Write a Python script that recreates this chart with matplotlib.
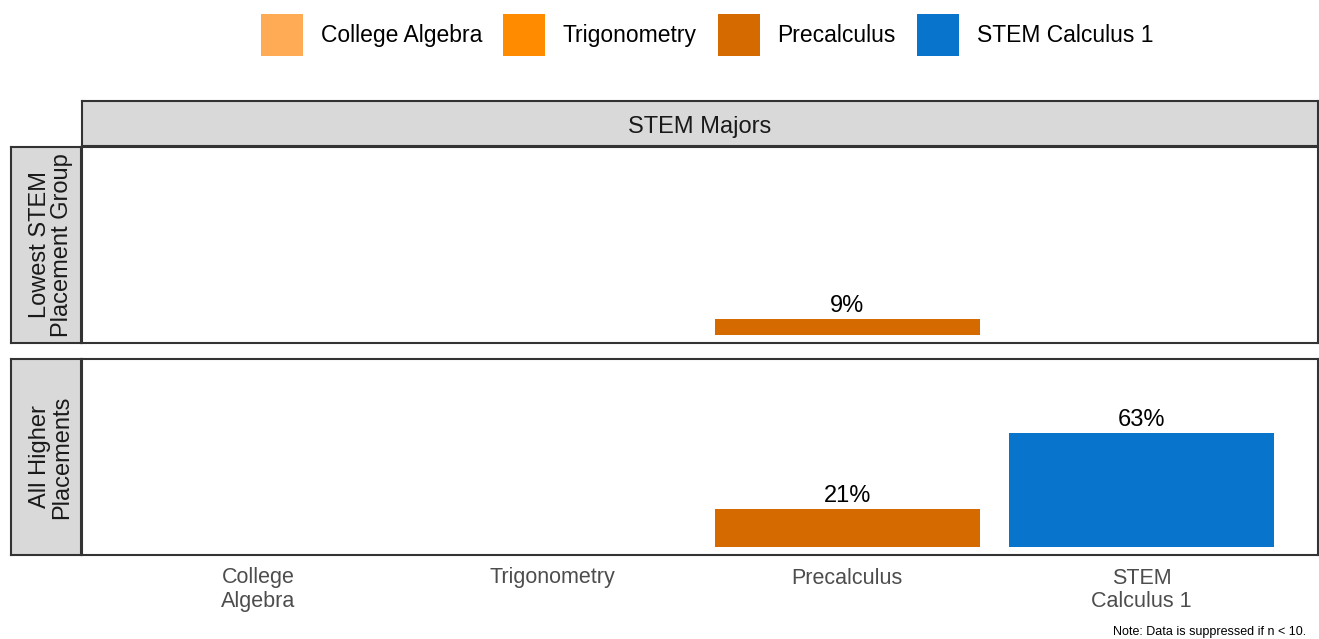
import numpy as np
import matplotlib
matplotlib.use("Agg")
import matplotlib.pyplot as plt
from matplotlib.patches import Patch

plt.rcParams['font.family'] = ['Liberation Sans', 'DejaVu Sans']

courses = ['College Algebra', 'Trigonometry', 'Precalculus', 'STEM Calculus 1']
tick_labels = ['College\nAlgebra', 'Trigonometry', 'Precalculus', 'STEM\nCalculus 1']
colors = ['#FFAA55', '#FF8C00', '#D46A00', '#0874CC']
groups = ['Lowest STEM\nPlacement Group', 'All Higher\nPlacements']
# NaN = suppressed / no data
values = {
    'Lowest STEM\nPlacement Group': [np.nan, np.nan, 0.09, np.nan],
    'All Higher\nPlacements': [np.nan, np.nan, 0.21, 0.63],
}

W, H = 1319, 639
fig = plt.figure(figsize=(W / 100, H / 100), dpi=100)


def box(x0, y0, x1, y1):
    # pixel box (top-left origin) -> figure fraction rect
    return [x0 / W, 1 - y1 / H, (x1 - x0) / W, (y1 - y0) / H]


edge = '#333333'
strip_fc = '#D9D9D9'

# top strip
st = fig.add_axes(box(82, 101, 1318, 146))
st.set_facecolor(strip_fc)
st.set_xticks([]); st.set_yticks([])
for s in st.spines.values():
    s.set_color(edge); s.set_linewidth(1.5)
st.text(0.5, 0.5 - 3 / 45, 'STEM Majors', ha='center', va='center', fontsize=17,
        color='#1a1a1a', transform=st.transAxes)

panel_y = [(147, 343), (359, 555)]
x = np.arange(1, len(courses) + 1)
for i, g in enumerate(groups):
    y0, y1 = panel_y[i]
    ax = fig.add_axes(box(82, y0, 1318, y1))
    vals = np.array(values[g])
    ok = ~np.isnan(vals)
    ax.bar(x[ok], vals[ok], width=0.9, color=[colors[j] for j in np.where(ok)[0]])
    for xi, v in zip(x[ok], vals[ok]):
        ax.annotate(f'{v * 100:.0f}%', (xi, v), xytext=(0, 1.5), textcoords='offset points',
                    ha='center', va='bottom', fontsize=17, color='black')
    ax.set_xlim(0.4, 4.6)
    ax.set_ylim(-0.044, 1.04)
    ax.set_yticks([])
    ax.tick_params(axis='x', length=0, pad=9, labelsize=15.5, labelcolor='#4D4D4D')
    if i == len(groups) - 1:
        ax.set_xticks(x)
        ax.set_xticklabels(tick_labels, linespacing=1.15)
    else:
        ax.set_xticks([])
    for s in ax.spines.values():
        s.set_color(edge); s.set_linewidth(1.5)

    sl = fig.add_axes(box(11, y0, 81, y1))
    sl.set_facecolor(strip_fc)
    sl.set_xticks([]); sl.set_yticks([])
    for s in sl.spines.values():
        s.set_color(edge); s.set_linewidth(1.5)
    sl.text(0.5 + 5 / 70, 0.5, g, ha='center', va='center', rotation=90, fontsize=17,
            color='#1a1a1a', linespacing=1.05, transform=sl.transAxes)

handles = [Patch(facecolor=c, edgecolor='none', label=n) for c, n in zip(colors, courses)]
fig.legend(handles=handles, loc='center', bbox_to_anchor=(707 / W, 1 - 35 / H), ncol=4,
           frameon=False, fontsize=16.5, handlelength=1.83, handleheight=2.4,
           handletextpad=0.79, columnspacing=0.9)

fig.text(1306 / W, 1 - 632 / H, 'Note: Data is suppressed if n < 10.', ha='right',
         va='center', fontsize=9, color='black')

fig.savefig('out.png', dpi=100)
